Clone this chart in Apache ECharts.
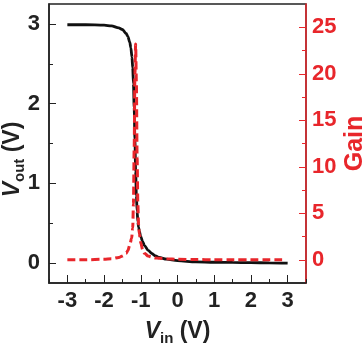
<!DOCTYPE html>
<html><head><meta charset="utf-8">
<script src="https://cdn.jsdelivr.net/npm/echarts@6/dist/echarts.min.js"></script>
<style>html,body{margin:0;padding:0;background:#fff}#c{width:363px;height:350px}</style>
</head><body><div id="c"></div>
<script>
// Vout transfer curve
var vinOut = [-3,-2.5,-2,-1.8,-1.6,-1.5,-1.4,-1.35,-1.3,-1.27,-1.24,-1.22,-1.2,-1.18,-1.16,-1.14,-1.12,-1.10,-1.08,-1.06,-1.04,-1.0,-0.95,-0.9,-0.8,-0.7,-0.6,-0.5,-0.3,0,0.5,1,1.5,2,2.5,3];
var vout   = [2.99,2.99,2.985,2.975,2.95,2.93,2.88,2.84,2.77,2.70,2.58,2.45,2.25,1.95,1.55,1.15,0.85,0.65,0.52,0.45,0.40,0.33,0.27,0.22,0.16,0.12,0.09,0.07,0.05,0.03,0.015,0.01,0.008,0.005,0.003,0.0];
// Gain curve
var vinGain = [-3,-2.5,-2,-1.8,-1.6,-1.5,-1.4,-1.35,-1.3,-1.25,-1.22,-1.2,-1.18,-1.16,-1.14,-1.12,-1.10,-1.08,-1.06,-1.04,-1.0,-0.95,-0.9,-0.8,-0.7,-0.6,-0.5,-0.3,0,0.5,1,1.5,2,2.5,2.85];
var gain    = [0,0,0.05,0.1,0.25,0.4,0.7,1.0,1.6,2.3,3.4,6,12,20,23.2,19,11,6,3.8,2.8,1.8,1.1,0.7,0.4,0.3,0.2,0.15,0.1,0.05,0.02,0,0,0,0,0];
// ticks
var xTicks = [-3,-2,-1,0,1,2,3];
var xMinor = [-3.5,-2.5,-1.5,-0.5,0.5,1.5,2.5,3.5];
var yTicks = [0,1,2,3];
var yMinor = [0.5,1.5,2.5];
var gTicks = [0,5,10,15,20,25];
var gMinor = [2.5,7.5,12.5,17.5,22.5];

function zip(a,b){return a.map(function(v,i){return [v,b[i]];});}
var RED = '#e8262b';
var INK = '#222';
var FONT = '"Liberation Sans", Arial, sans-serif';
var rich = {
  i:{fontSize:23,fontWeight:'bold',fontStyle:'italic',fontFamily:FONT,color:INK},
  s:{fontSize:15,fontWeight:'bold',fontFamily:FONT,color:INK,padding:[14,0,0,0]},
  n:{fontSize:23,fontWeight:'bold',fontFamily:FONT,color:INK}};
function minorAxis(pos,min,max,vals,color){
  return {type:'value',position:pos,min:min,max:max,
    axisLine:{show:false,onZero:false},
    axisTick:{show:true,inside:true,length:4,customValues:vals,lineStyle:{color:color,width:1}},
    axisLabel:{show:false},splitLine:{show:false}};
}
var chart = echarts.init(document.getElementById('c'));
chart.setOption({
  animation:false,
  grid:{left:49,right:57,top:4,bottom:67,outerBoundsMode:'none',show:true,borderColor:INK,borderWidth:1.5,backgroundColor:'transparent'},
  xAxis:[{type:'value',min:-3.5,max:3.5,
    axisLine:{onZero:false,lineStyle:{color:INK,width:1.5}},
    axisTick:{inside:true,length:8,customValues:xTicks,lineStyle:{color:INK,width:1}},
    axisLabel:{customValues:xTicks,color:INK,fontSize:22,fontWeight:'bold',fontFamily:FONT,margin:7},
    splitLine:{show:false},
    name:'{i|V}{s|in}{n| (V)}',nameLocation:'middle',nameGap:34,
    nameTextStyle:{rich:rich}
  }, minorAxis('bottom',-3.5,3.5,xMinor,INK)],
  yAxis:[{type:'value',min:-0.25,max:3.25,position:'left',
    axisLine:{show:true,onZero:false,lineStyle:{color:INK,width:1.5}},
    axisTick:{show:true,inside:true,length:7,customValues:yTicks,lineStyle:{color:INK,width:1}},
    axisLabel:{customValues:yTicks,color:INK,fontSize:22,fontWeight:'bold',fontFamily:FONT,margin:9},
    splitLine:{show:false},
    name:'{i|V}{s|out}{n| (V)}',nameLocation:'middle',nameGap:22,nameMoveOverlap:false,
    nameTextStyle:{rich:rich,padding:[0,32,0,0]}
  },{type:'value',min:-2.5,max:27.5,position:'right',
    axisLine:{show:true,onZero:false,lineStyle:{color:RED,width:1.5}},
    axisTick:{show:true,inside:true,length:7,customValues:gTicks,lineStyle:{color:RED,width:1}},
    axisLabel:{customValues:gTicks,color:RED,fontSize:22,fontWeight:'bold',fontFamily:FONT,margin:6},
    splitLine:{show:false},
    name:'Gain',nameLocation:'middle',nameGap:37,nameRotate:90,nameMoveOverlap:false,
    nameTextStyle:{color:RED,fontSize:25,fontWeight:'bold',fontFamily:FONT}
  }, minorAxis('left',-0.25,3.25,yMinor,INK), minorAxis('right',-2.5,27.5,gMinor,RED)],
  series:[
    {type:'line',xAxisIndex:0,yAxisIndex:0,data:zip(vinOut,vout),showSymbol:false,smooth:0.3,smoothMonotone:'x',
      lineStyle:{color:'#111',width:2.8},z:2},
    {type:'line',xAxisIndex:0,yAxisIndex:1,data:zip(vinGain,gain),showSymbol:false,smooth:0.3,smoothMonotone:'x',
      lineStyle:{color:RED,width:3,type:[8,4]},z:3}
  ]
});
</script></body></html>
